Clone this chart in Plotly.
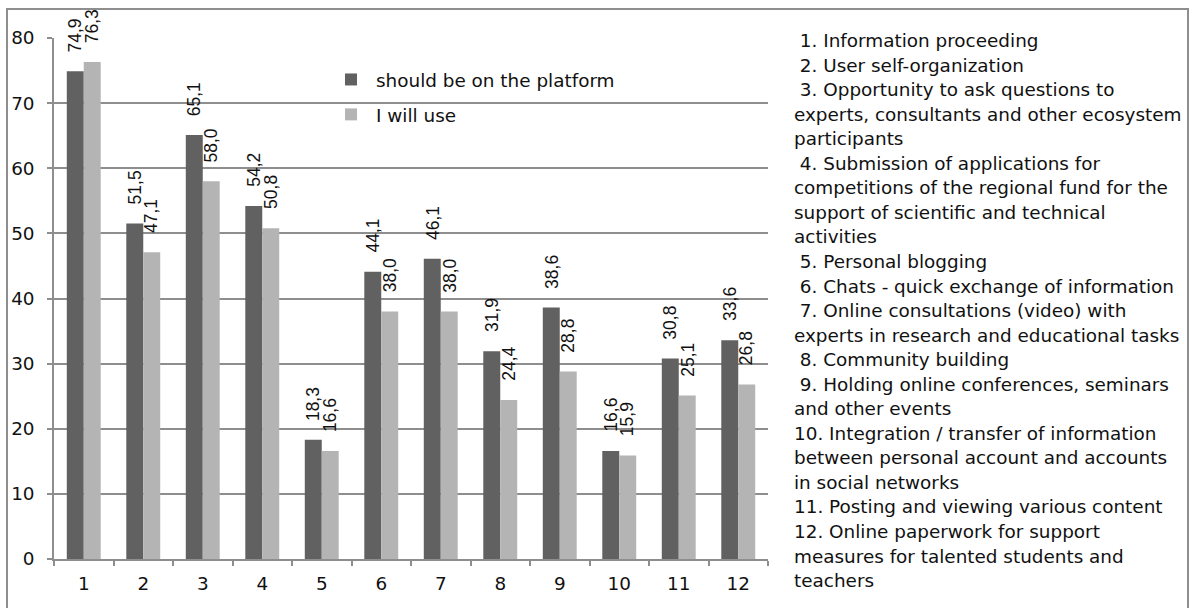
import plotly.graph_objects as go

# ---- data ----
categories = [str(i) for i in range(1, 13)]
should_be = [74.9, 51.5, 65.1, 54.2, 18.3, 44.1, 46.1, 31.9, 38.6, 16.6, 30.8, 33.6]
will_use = [76.3, 47.1, 58.0, 50.8, 16.6, 38.0, 38.0, 24.4, 28.8, 15.9, 25.1, 26.8]
series_names = ["should be on the platform", "I will use"]
y_ticks = [0, 10, 20, 30, 40, 50, 60, 70, 80]

item_lines = [
    " 1. Information proceeding",
    " 2. User self-organization",
    " 3. Opportunity to ask questions to",
    "experts, consultants and other ecosystem",
    "participants",
    " 4. Submission of applications for",
    "competitions of the regional fund for the",
    "support of scientific and technical",
    "activities",
    " 5. Personal blogging",
    " 6. Chats - quick exchange of information",
    " 7. Online consultations (video) with",
    "experts in research and educational tasks",
    " 8. Community building",
    " 9. Holding online conferences, seminars",
    "and other events",
    "10. Integration / transfer of information",
    "between personal account and accounts",
    "in social networks",
    "11. Posting and viewing various content",
    "12. Online paperwork for support",
    "measures for talented students and",
    "teachers",
]

# ---- layout geometry (pixels) ----
W, H = 1193, 608
FL, FR, FT, FB = 8, 1187, 10, 608    # outer frame (paper area)
PL, PR, PT, PB = 54, 768, 38, 559    # bar plot area
FW, FH = FR - FL, FB - FT
PW = PR - PL


def px_x(px):
    return (px - FL) / FW


def px_y(py):
    return (FB - py) / FH


DARK = "#616161"
LIGHT = "#b4b4b4"
GRID = "#8e8e8e"
FONT = "DejaVu Sans"
FS = 18.4

fig = go.Figure()
fig.add_trace(go.Bar(x=categories, y=should_be, name=series_names[0],
                     marker=dict(color=DARK, line=dict(width=0)),
                     legendgroup="a"))
fig.add_trace(go.Bar(x=categories, y=will_use, name=series_names[1],
                     marker=dict(color=LIGHT, line=dict(width=0)),
                     legendgroup="b"))
# empty trace that carries the frame axes
fig.add_trace(go.Scatter(x=[], y=[], xaxis="x2", yaxis="y2",
                         showlegend=False, hoverinfo="skip"))

annotations = []
# rotated value labels above each bar (category axis -> positional index)
half_bar = PW / len(categories) * 0.57 / 4
for vals, shift in ((should_be, -half_bar), (will_use, half_bar)):
    for idx, v in enumerate(vals):
        annotations.append(dict(
            x=idx, y=v, xref="x", yref="y", xshift=shift, yshift=17,
            text=f"{v:.1f}".replace(".", ","), textangle=-90,
            showarrow=False, xanchor="center", yanchor="bottom",
            font=dict(family="Liberation Sans, Arial", size=17.5, color="#111"),
        ))

# numbered descriptions to the right of the plot
LINE0, PITCH = 40.5, 24.55
for i, line in enumerate(item_lines):
    annotations.append(dict(
        x=px_x(792), y=px_y(LINE0 + i * PITCH), xref="paper", yref="paper",
        text=line.replace(" ", "\u00a0"), showarrow=False,
        xanchor="left", yanchor="middle", align="left",
        font=dict(family=FONT, size=FS, color="#111"),
    ))

fig.update_layout(
    width=W, height=H,
    margin=dict(l=FL, r=W - FR, t=FT, b=H - FB, pad=0, autoexpand=False),
    paper_bgcolor="white", plot_bgcolor="rgba(0,0,0,0)",
    barmode="group", bargap=0.43, bargroupgap=0,
    font=dict(family=FONT, size=FS, color="#111"),
    showlegend=True,
    legend=dict(x=px_x(326), y=px_y(61), xanchor="left", yanchor="top",
                bgcolor="rgba(0,0,0,0)", tracegroupgap=8, itemwidth=40,
                font=dict(family=FONT, size=FS, color="#111")),
    annotations=annotations,
    xaxis=dict(type="category", range=[-0.5, 11.5],
               domain=[px_x(PL), px_x(PR)], anchor="y", showgrid=False,
               showline=True, linecolor=GRID, linewidth=1.5, ticks="outside",
               tickson="boundaries", ticklen=5, tickcolor=GRID, tickwidth=1.5,
               ticklabelstandoff=7, automargin=False, fixedrange=True),
    yaxis=dict(range=[0, 80], tickvals=y_ticks, domain=[px_y(PB), px_y(PT)],
               anchor="x", showgrid=True, gridcolor=GRID, gridwidth=1.5,
               showline=True, linecolor=GRID, linewidth=1.5, ticks="outside",
               ticklen=5, tickcolor=GRID, tickwidth=1.5, zeroline=False,
               ticklabelstandoff=9, automargin=False, fixedrange=True),
    # frame: top edge from x2, left/right edges from mirrored y2
    xaxis2=dict(domain=[0, 1], anchor="y2", side="top", range=[0, 1],
                showline=True, linecolor=GRID, linewidth=1.5, showgrid=False,
                zeroline=False, showticklabels=False, ticks="",
                automargin=False, fixedrange=True),
    yaxis2=dict(domain=[0, 1], anchor="x2", range=[0, 1], showline=True,
                mirror=True, linecolor=GRID, linewidth=1.5, showgrid=False,
                zeroline=False, showticklabels=False, ticks="",
                automargin=False, fixedrange=True),
)

# white block behind the legend hiding the grid line
fig.add_shape(type="rect", xref="paper", yref="paper",
              x0=px_x(307), x1=px_x(708), y0=px_y(150), y1=px_y(46),
              fillcolor="white", line=dict(width=0), layer="between")

fig.write_html("out.html")
